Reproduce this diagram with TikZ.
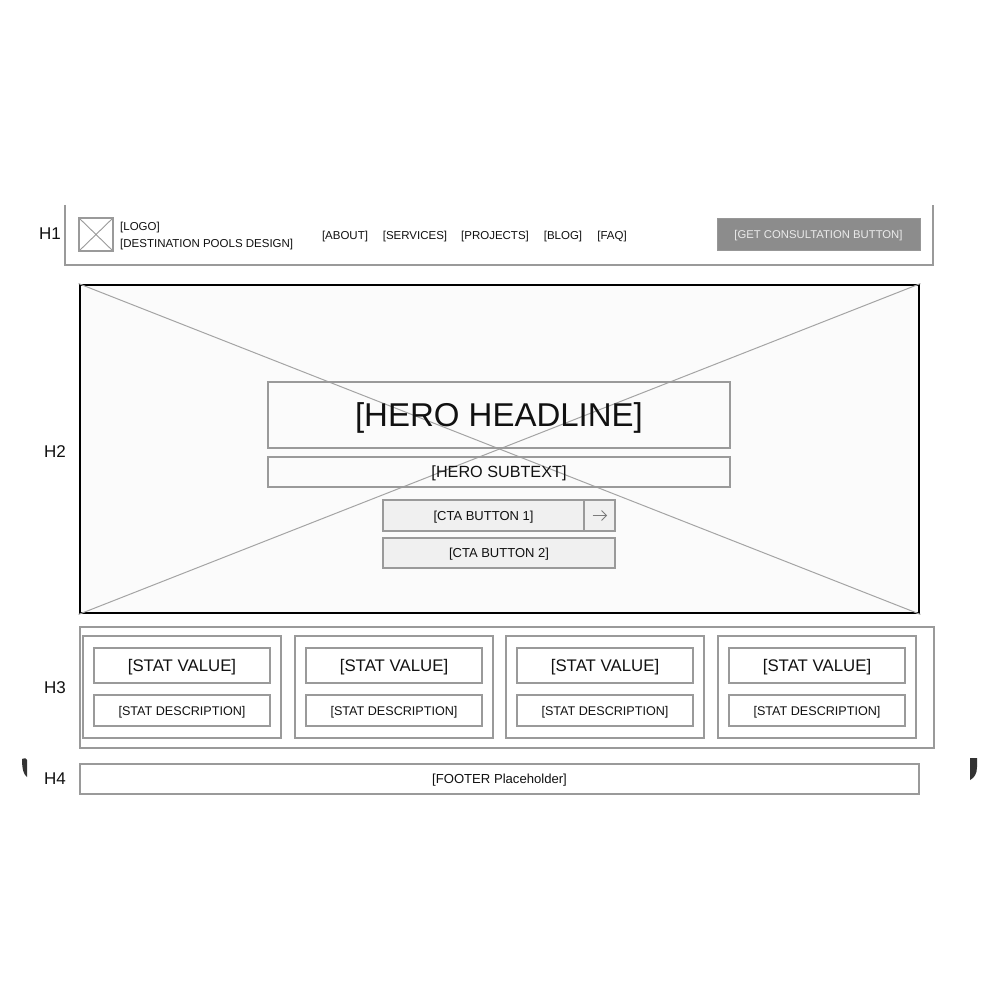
\documentclass[tikz,border=0pt]{standalone}
\usepackage{fontspec}
\setmainfont{Liberation Sans}
\definecolor{bord}{HTML}{9A9A9A}
\definecolor{txt}{HTML}{111111}
\definecolor{btnfill}{HTML}{F0F0F0}
\definecolor{herofill}{HTML}{FBFBFB}
\definecolor{darkbtn}{HTML}{8C8C8C}
\begin{document}
\begin{tikzpicture}[x=1pt,y=-1pt,
  box/.style={draw=bord,line width=1.3pt,text depth=0pt},
  sec/.style={text=txt,inner sep=0pt,text depth=0pt,font=\fontsize{17}{20}\selectfont},
  nav/.style={text=txt,inner sep=0pt,text depth=0pt,font=\fontsize{11.5}{13}\selectfont},
  diag/.style={draw=bord!90,line width=1pt}]
\useasboundingbox[fill=white] (0,0) rectangle (1000,1000);

% ---------- H1 header ----------
\node[sec] (h1) at (50,234) {H1};
\draw[box] (65,205) -- (65,265) -- (933,265) -- (933,205);
\node[box,minimum width=34pt,minimum height=33pt,inner sep=0pt] (logo) at (96,234.5) {};
\draw[bord,line width=0.9pt] (logo.north west) -- (logo.south east) (logo.north east) -- (logo.south west);
\node[nav,anchor=west] (logot) at (120,226) {[LOGO]};
\node[nav,anchor=west] (brand) at (120,243) {[DESTINATION POOLS DESIGN]};
\node[nav] (about) at (345,235) {[ABOUT]};
\node[nav] (services) at (415,235) {[SERVICES]};
\node[nav] (projects) at (495,235) {[PROJECTS]};
\node[nav] (blog) at (563,235) {[BLOG]};
\node[nav] (faq) at (612,235) {[FAQ]};
\node[fill=darkbtn,draw=darkbtn!90,minimum width=203pt,minimum height=32pt,inner sep=0pt,text depth=0pt,
      text=white!92!black,font=\fontsize{11.3}{13}\selectfont] (cta0) at (818.5,234) {[GET CONSULTATION BUTTON]};

% ---------- H2 hero ----------
\node[sec] (h2) at (55,452) {H2};
\node[draw=black,fill=herofill,line width=2.8pt,minimum width=839pt,minimum height=328pt,inner sep=0pt] (hero) at (499.5,449) {};
\draw[diag] (hero.north west) -- (hero.south east);
\draw[diag] (hero.south west) -- (hero.north east);
\node[box,minimum width=462pt,minimum height=66pt,inner sep=0pt,text=txt,font=\fontsize{33}{38}\selectfont] (headline) at (499,415) {[HERO HEADLINE]};
\node[box,minimum width=462pt,minimum height=30pt,inner sep=0pt,text=txt,font=\fontsize{16.2}{19}\selectfont] (subtext) at (499,472) {[HERO SUBTEXT]};
\node[box,fill=btnfill,minimum width=201pt,minimum height=31pt,inner sep=0pt,text=txt,font=\fontsize{13}{15}\selectfont] (cta1) at (483.5,515.5) {[CTA BUTTON 1]};
\node[box,fill=btnfill,minimum width=31pt,minimum height=31pt,inner sep=0pt] (arrowbox) at (599.5,515.5) {};
\draw[bord!80!black,line width=0.9pt] ([xshift=-7pt]arrowbox.center) -- ([xshift=7pt]arrowbox.center);
\draw[bord!80!black,line width=0.9pt] ([xshift=2pt,yshift=5pt]arrowbox.center) -- ([xshift=7pt]arrowbox.center) -- ([xshift=2pt,yshift=-5pt]arrowbox.center);
\node[box,fill=btnfill,minimum width=232pt,minimum height=30pt,inner sep=0pt,text=txt,font=\fontsize{13}{15}\selectfont] (cta2) at (499,553) {[CTA BUTTON 2]};

% ---------- H3 stats ----------
\node[sec] (h3) at (55,688) {H3};
\node[box,minimum width=854pt,minimum height=121pt,inner sep=0pt] (stats) at (507,687.5) {};
\foreach \i/\cx in {1/182,2/394,3/605,4/817}{
  \node[box,minimum width=198pt,minimum height=102pt,inner sep=0pt] (card\i) at (\cx,687) {};
  \node[box,minimum width=176pt,minimum height=35pt,inner sep=0pt,text=txt,font=\fontsize{16.8}{19}\selectfont] (val\i) at (\cx,665.5) {[STAT VALUE]};
  \node[box,minimum width=176pt,minimum height=31pt,inner sep=0pt,text=txt,font=\fontsize{12.6}{15}\selectfont] (desc\i) at (\cx,710.5) {[STAT DESCRIPTION]};
}

% ---------- H4 footer ----------
\node[sec] (h4) at (55,779) {H4};
\node[box,minimum width=839pt,minimum height=30pt,inner sep=0pt,text=txt,font=\fontsize{13.1}{15}\selectfont] (footer) at (499.5,779) {[FOOTER Placeholder]};

% ---------- stray dark marks ----------
\fill[black!80] (22,759) .. controls (25,758) and (27,758) .. (27,760) -- (27,777) .. controls (24,775) and (22,770) .. (22,759) -- cycle;
\fill[black!80] (970,758) -- (977,758) -- (977,767) .. controls (977,774) and (974,778) .. (970,780) -- cycle;
\end{tikzpicture}
\end{document}
